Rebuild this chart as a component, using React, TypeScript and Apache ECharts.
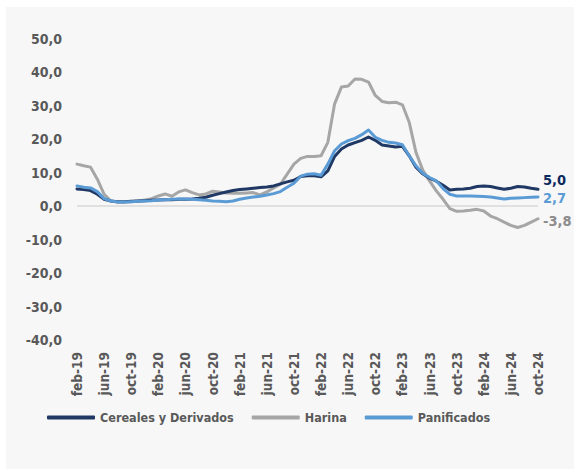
import React, { useEffect, useRef } from "react";
import * as echarts from "echarts";

// Monthly categories feb-19 .. oct-24
const categories: string[] = [
  "feb-19","mar-19","apr-19","may-19","jun-19","jul-19","aug-19","sep-19","oct-19","nov-19","dec-19",
  "jan-20","feb-20","mar-20","apr-20","may-20","jun-20","jul-20","aug-20","sep-20","oct-20","nov-20","dec-20",
  "jan-21","feb-21","mar-21","apr-21","may-21","jun-21","jul-21","aug-21","sep-21","oct-21","nov-21","dec-21",
  "jan-22","feb-22","mar-22","apr-22","may-22","jun-22","jul-22","aug-22","sep-22","oct-22","nov-22","dec-22",
  "jan-23","feb-23","mar-23","apr-23","may-23","jun-23","jul-23","aug-23","sep-23","oct-23","nov-23","dec-23",
  "jan-24","feb-24","mar-24","apr-24","may-24","jun-24","jul-24","aug-24","sep-24","oct-24",
];

const cereales: number[] = [
  5.1, 4.9, 4.6, 3.5, 2.0, 1.5, 1.3, 1.3, 1.4, 1.5, 1.6,
  1.7, 1.8, 1.9, 1.9, 2.0, 2.0, 2.1, 2.3, 2.6, 3.2, 3.7, 4.2,
  4.6, 4.9, 5.1, 5.3, 5.5, 5.7, 6.0, 6.6, 7.2, 7.7, 8.8, 9.0,
  9.0, 8.7, 10.5, 14.8, 17.0, 18.2, 18.9, 19.6, 20.6, 19.6, 18.2, 17.9,
  17.6, 17.8, 15.0, 11.6, 9.6, 8.3, 7.4, 6.2, 4.8, 5.0, 5.1, 5.3,
  5.8, 6.0, 5.8, 5.4, 5.0, 5.3, 5.8, 5.7, 5.3, 5.0,
];

const harina: number[] = [
  12.5, 12.0, 11.6, 8.0, 3.5, 1.5, 1.2, 1.2, 1.3, 1.5, 1.8,
  2.2, 3.0, 3.6, 2.9, 4.2, 4.8, 4.0, 3.3, 3.6, 4.4, 4.2, 3.9,
  3.8, 3.8, 3.9, 4.0, 3.3, 4.2, 5.4, 6.5, 9.5, 12.5, 14.2, 14.8,
  14.8, 15.0, 19.0, 30.5, 35.5, 35.8, 37.9, 37.8, 37.0, 33.0, 31.2, 30.8,
  31.0, 30.2, 25.0, 16.0, 10.7, 7.5, 4.5, 2.0, -0.8, -1.6, -1.5, -1.3,
  -1.0, -1.5, -3.0, -3.8, -4.8, -5.8, -6.4, -5.8, -4.8, -3.8,
];

const panificados: number[] = [
  6.0, 5.6, 5.4, 4.3, 2.2, 1.5, 1.2, 1.2, 1.3, 1.4, 1.5,
  1.6, 1.8, 1.9, 2.0, 2.1, 2.1, 2.0, 1.9, 1.7, 1.5, 1.4, 1.3,
  1.5, 2.0, 2.4, 2.7, 2.9, 3.3, 3.7, 4.3, 5.6, 6.8, 8.9, 9.5,
  9.6, 9.2, 12.5, 16.5, 18.5, 19.5, 20.2, 21.3, 22.7, 20.5, 19.6, 19.0,
  18.8, 18.3, 15.0, 12.0, 9.8, 8.5, 7.5, 5.2, 3.5, 3.0, 3.0, 3.0,
  2.9, 2.8, 2.7, 2.4, 2.1, 2.3, 2.4, 2.5, 2.6, 2.7,
];

const seriesNames = ["Cereales y Derivados", "Harina", "Panificados"];
const seriesColors = ["#203864", "#a6a6a6", "#5b9bd5"];
const labelColors = ["#0d2a5e", "#8c8c8c", "#5b9bd5"];

const FONT = "'Liberation Sans Narrow', 'DejaVu Sans Condensed', 'Open Sans', sans-serif";

const fmt = (v: number) => v.toFixed(1).replace(".", ",");

export default function App() {
  const ref = useRef<HTMLDivElement>(null);

  useEffect(() => {
    if (!ref.current) return;
    const chart = echarts.init(ref.current, null, { renderer: "svg" });
    const datasets = [cereales, harina, panificados];
    const offsets = [[0, -9], [0, 2], [0, 1]];
    chart.setOption({
      animation: false,
      backgroundColor: "transparent",
      textStyle: { fontFamily: FONT },
      grid: { left: 77, right: 36, top: 38.5, bottom: 129, containLabel: false },
      legend: {
        data: seriesNames,
        left: 47,
        top: 411,
        padding: 0,
        itemWidth: 48,
        itemHeight: 4,
        itemGap: 18,
        icon: "roundRect",
        textStyle: { fontFamily: FONT, fontWeight: "bold", fontSize: 12.5, color: "#595959" },
      },
      xAxis: {
        type: "category",
        data: categories,
        boundaryGap: false,
        axisLine: { show: false },
        axisTick: { show: false },
        splitLine: { show: false },
        axisLabel: {
          interval: 3,
          rotate: 90,
          margin: 12,
          fontFamily: FONT,
          fontWeight: "bold",
          fontSize: 13.5,
          color: "#595959",
        },
      },
      yAxis: {
        type: "value",
        min: -40,
        max: 50,
        interval: 10,
        axisLine: { show: false },
        axisTick: { show: false },
        splitLine: { show: false },
        axisLabel: {
          formatter: (v: number) => fmt(v),
          margin: 15,
          fontFamily: FONT,
          fontWeight: "bold",
          fontSize: 14,
          color: "#595959",
        },
      },
      series: datasets.map((d, i) => ({
        name: seriesNames[i],
        type: "line",
        data: d,
        symbol: "none",
        z: i === 1 ? 2 : i === 0 ? 3 : 4,
        lineStyle: { width: 3, color: seriesColors[i], join: "round", cap: "round" },
        itemStyle: { color: seriesColors[i] },
        endLabel: {
          show: true,
          formatter: (p: any) => fmt(p.value),
          color: labelColors[i],
          fontFamily: FONT,
          fontWeight: "bold",
          fontSize: 14.5,
          distance: 5,
          offset: offsets[i],
        },
        markLine:
          i === 1
            ? {
                silent: true,
                symbol: "none",
                label: { show: false },
                lineStyle: { color: "#d9d9d9", width: 1.5, type: "solid" },
                z: 1,
                data: [{ yAxis: 0 }],
              }
            : undefined,
      })),
    });
    return () => chart.dispose();
  }, []);

  return (
    <div style={{ position: "fixed", left: 0, top: 0, width: 574, height: 469, background: "#ffffff" }}>
      <div style={{ position: "absolute", left: 6, top: 7, width: 568, height: 462, background: "#f7f7f7" }} />
      <div ref={ref} style={{ position: "absolute", left: 0, top: 0, width: 574, height: 469 }} />
    </div>
  );
}
